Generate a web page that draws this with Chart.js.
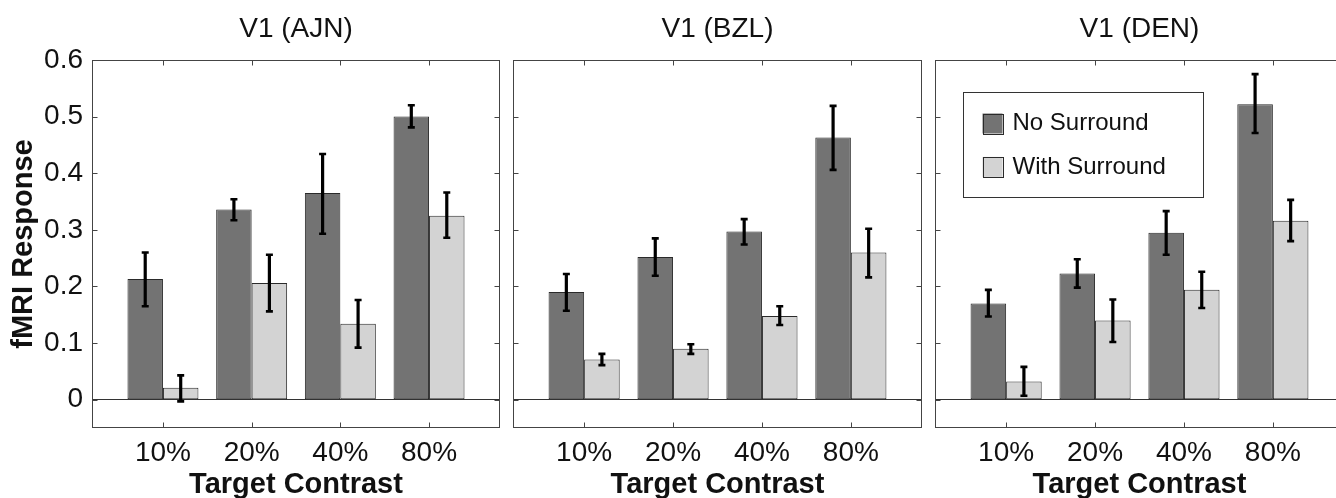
<!DOCTYPE html>
<html><head><meta charset="utf-8">
<script src="https://cdn.jsdelivr.net/npm/chart.js@4"></script>
<style>
html,body{margin:0;padding:0;background:#fff;overflow:hidden;width:1336px;height:498px;position:relative;}
canvas{position:absolute;top:0;}
</style></head><body>
<canvas id="c1" width="506" height="498" style="left:0px"></canvas>
<canvas id="c2" width="422" height="498" style="left:507px"></canvas>
<canvas id="c3" width="422" height="498" style="left:929px"></canvas>
<script>
// ---- data ----
const categories = ['10%', '20%', '40%', '80%'];
const categoryPositions = [1, 2, 3, 4];
const yTickValues = [0, 0.1, 0.2, 0.3, 0.4, 0.5, 0.6];
const yTickLabels = ['0', '0.1', '0.2', '0.3', '0.4', '0.5', '0.6'];
const panelTitles = ['V1 (AJN)', 'V1 (BZL)', 'V1 (DEN)'];
const seriesNames = ['No Surround', 'With Surround'];

const ajnNoSurround     = [0.213, 0.336, 0.365, 0.500];
const ajnNoSurroundLo   = [0.165, 0.317, 0.293, 0.481];
const ajnNoSurroundHi   = [0.260, 0.354, 0.434, 0.520];
const ajnWithSurround   = [0.021, 0.206, 0.134, 0.325];
const ajnWithSurroundLo = [-0.003, 0.156, 0.092, 0.286];
const ajnWithSurroundHi = [0.043, 0.256, 0.176, 0.366];

const bzlNoSurround     = [0.190, 0.252, 0.297, 0.463];
const bzlNoSurroundLo   = [0.157, 0.219, 0.274, 0.406];
const bzlNoSurroundHi   = [0.222, 0.285, 0.319, 0.519];
const bzlWithSurround   = [0.071, 0.090, 0.148, 0.260];
const bzlWithSurroundLo = [0.061, 0.081, 0.132, 0.216];
const bzlWithSurroundHi = [0.081, 0.098, 0.165, 0.302];

const denNoSurround     = [0.170, 0.223, 0.295, 0.522];
const denNoSurroundLo   = [0.147, 0.198, 0.256, 0.471];
const denNoSurroundHi   = [0.194, 0.248, 0.333, 0.575];
const denWithSurround   = [0.032, 0.140, 0.194, 0.316];
const denWithSurroundLo = [0.007, 0.102, 0.162, 0.280];
const denWithSurroundHi = [0.058, 0.177, 0.226, 0.353];

// ---- styling ----
const FONT = "'Liberation Sans', Arial, Helvetica, sans-serif";
const DARK = '#737373', LIGHT = '#d3d3d3', EDGE = '#2a2a2a', FRAME = '#444';

const errorBars = {
  id: 'errorBars',
  afterDatasetsDraw(chart) {
    const ctx = chart.ctx, ys = chart.scales.y;
    chart.data.datasets.forEach((ds, di) => {
      const meta = chart.getDatasetMeta(di);
      meta.data.forEach((bar, i) => {
        const x = bar.x;
        const yt = ys.getPixelForValue(ds.errHi[i]);
        const yb = ys.getPixelForValue(ds.errLo[i]);
        ctx.save();
        ctx.strokeStyle = '#000';
        ctx.lineWidth = 3.2;
        ctx.beginPath(); ctx.moveTo(x, yt); ctx.lineTo(x, yb); ctx.stroke();
        ctx.lineWidth = 2.6;
        ctx.beginPath();
        ctx.moveTo(x - 3.5, yt); ctx.lineTo(x + 3.5, yt);
        ctx.moveTo(x - 3.5, yb); ctx.lineTo(x + 3.5, yb);
        ctx.stroke();
        ctx.restore();
      });
    });
  }
};

const frameTicks = {
  id: 'frameTicks',
  afterDraw(chart) {
    const ctx = chart.ctx, a = chart.chartArea;
    const xs = chart.scales.x, ys = chart.scales.y;
    ctx.save();
    ctx.strokeStyle = FRAME;
    ctx.lineWidth = 1;
    const L = Math.round(a.left) + 0.5, R = Math.round(a.right) - 0.5;
    const T = Math.round(a.top) + 0.5, B = Math.round(a.bottom) - 0.5;
    ctx.strokeRect(L, T, R - L, B - T);
    ctx.beginPath();
    xs.ticks.forEach((t, i) => {
      const px = Math.round(xs.getPixelForTick(i)) + 0.5;
      ctx.moveTo(px, T); ctx.lineTo(px, T + 5);
      ctx.moveTo(px, B); ctx.lineTo(px, B - 5);
    });
    ys.ticks.forEach((t, i) => {
      const py = Math.round(ys.getPixelForTick(i)) + 0.5;
      ctx.moveTo(L, py); ctx.lineTo(L + 5, py);
      ctx.moveTo(R, py); ctx.lineTo(R - 5, py);
    });
    ctx.stroke();
    ctx.restore();
  }
};

const boxLegend = {
  id: 'boxLegend',
  afterDraw(chart) {
    const ctx = chart.ctx, a = chart.chartArea;
    const bx = a.left + 28, by = a.top + 32, bw = 240, bh = 105;
    ctx.save();
    ctx.fillStyle = '#fff';
    ctx.fillRect(bx, by, bw, bh);
    ctx.strokeStyle = '#333';
    ctx.lineWidth = 1;
    ctx.strokeRect(Math.round(bx) + 0.5, Math.round(by) + 0.5, bw, bh);
    chart.data.datasets.forEach((ds, i) => {
      const sx = bx + 19.5, sy = by + 21.5 + i * 43.4;
      ctx.fillStyle = ds.backgroundColor;
      ctx.fillRect(sx, sy, 20, 20);
      ctx.strokeStyle = ds.borderColor;
      ctx.strokeRect(Math.round(sx) + 0.5, Math.round(sy) + 0.5, 20, 20);
      ctx.fillStyle = '#111';
      ctx.font = '24px ' + FONT;
      ctx.textBaseline = 'middle';
      ctx.textAlign = 'left';
      ctx.fillText(ds.label, bx + 49.5, sy + 10);
    });
    ctx.restore();
  }
};

function makePanel(id, title, no, noLo, noHi, wi, wiLo, wiHi, cfg) {
  const plugins = [errorBars, frameTicks];
  if (cfg.legend) plugins.push(boxLegend);
  return new Chart(document.getElementById(id), {
    type: 'bar',
    data: {
      labels: categoryPositions,
      datasets: [
        { label: seriesNames[0], data: no, errLo: noLo, errHi: noHi,
          backgroundColor: DARK, borderColor: EDGE, borderWidth: 1, borderSkipped: false,
          barPercentage: 1, categoryPercentage: 0.8 },
        { label: seriesNames[1], data: wi, errLo: wiLo, errHi: wiHi,
          backgroundColor: LIGHT, borderColor: EDGE, borderWidth: 1, borderSkipped: false,
          barPercentage: 1, categoryPercentage: 0.8 }
      ]
    },
    options: {
      responsive: false,
      animation: false,
      devicePixelRatio: 1,
      events: [],
      layout: { padding: { left: 0, right: cfg.padRight, top: 0, bottom: 0 } },
      plugins: {
        legend: { display: false },
        tooltip: { enabled: false },
        title: {
          display: true, text: title, fullSize: false, color: '#111',
          font: { family: FONT, size: 28, weight: 'normal', lineHeight: 1 },
          padding: { top: 15, bottom: 17 }
        }
      },
      scales: {
        x: {
          type: 'linear', min: 0.2, max: 4.8, offset: false,
          afterBuildTicks: s => { s.ticks = categoryPositions.map(v => ({ value: v })); },
          afterFit: s => { s.height = 70; },
          grid: { display: false, drawTicks: false, offset: false },
          border: { display: false },
          ticks: {
            color: '#111', padding: 8, maxRotation: 0, autoSkip: false,
            font: { family: FONT, size: 28 },
            callback: v => { const k = categoryPositions.indexOf(v); return k >= 0 ? categories[k] : ''; }
          },
          title: {
            display: true, text: 'Target Contrast', color: '#111',
            font: { family: FONT, size: 29, weight: 'bold', lineHeight: 1 },
            padding: { top: 0, bottom: -1 }
          }
        },
        y: {
          type: 'linear', min: -0.05, max: 0.6,
          afterBuildTicks: s => { s.ticks = yTickValues.map(v => ({ value: v })); },
          afterFit: s => { s.width = cfg.yWidth; },
          grid: {
            drawTicks: false, lineWidth: 1,
            color: c => (c.tick && c.tick.value === 0) ? '#333' : 'rgba(0,0,0,0)'
          },
          border: { display: false },
          ticks: {
            display: cfg.showY, color: '#111', padding: 9,
            font: { family: FONT, size: 28 },
            callback: v => { const k = yTickValues.indexOf(v); return k >= 0 ? yTickLabels[k] : ''; }
          },
          title: {
            display: cfg.showY, text: 'fMRI Response', color: '#111',
            font: { family: FONT, size: 29, weight: 'bold', lineHeight: 1 },
            padding: { top: 9.5, bottom: 0 }
          }
        }
      }
    },
    plugins
  });
}

makePanel('c1', panelTitles[0], ajnNoSurround, ajnNoSurroundLo, ajnNoSurroundHi,
  ajnWithSurround, ajnWithSurroundLo, ajnWithSurroundHi, { showY: true, yWidth: 92, padRight: 6, legend: false });
makePanel('c2', panelTitles[1], bzlNoSurround, bzlNoSurroundLo, bzlNoSurroundHi,
  bzlWithSurround, bzlWithSurroundLo, bzlWithSurroundHi, { showY: false, yWidth: 6, padRight: 7, legend: false });
makePanel('c3', panelTitles[2], denNoSurround, denNoSurroundLo, denNoSurroundHi,
  denWithSurround, denWithSurroundLo, denWithSurroundHi, { showY: false, yWidth: 6, padRight: 7, legend: true });
</script>
</body></html>
